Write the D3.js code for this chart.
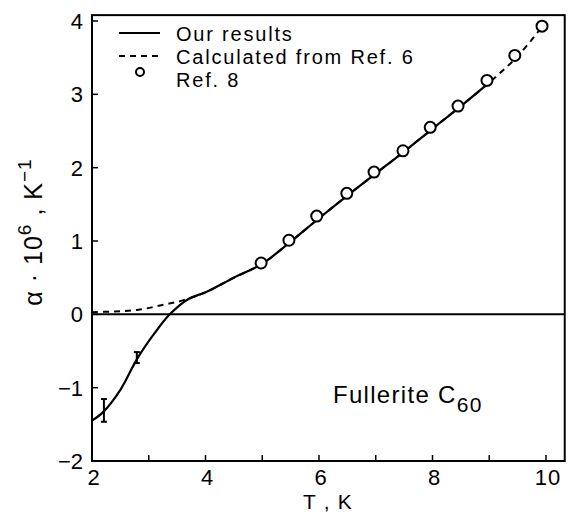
<!DOCTYPE html>
<html>
<head>
<meta charset="utf-8">
<script src="https://cdn.jsdelivr.net/npm/d3@7"></script>
<style>
  body { margin: 0; background: #fff; }
  svg { display: block; font-family: "Liberation Sans", Arial, sans-serif; }
</style>
</head>
<body>
<svg id="chart" width="568" height="514"></svg>
<script>
// DATA
const ourT     = [2.0, 2.2, 2.5, 2.8, 3.1, 3.37, 3.7, 4.0, 4.5, 5.0, 5.5, 6.0, 6.5, 7.0, 7.5, 8.0, 8.5, 9.0];
const ourAlpha = [-1.45, -1.33, -1.03, -0.60, -0.26, 0.0, 0.21, 0.30, 0.50, 0.69, 0.99, 1.31, 1.62, 1.92, 2.22, 2.53, 2.84, 3.16];

const calcT     = [2.0, 2.4, 2.8, 3.2, 3.6, 4.0, 4.5, 5.0, 5.5, 6.0, 6.5, 7.0, 7.5, 8.0, 8.5, 9.0, 9.5, 9.93];
const calcAlpha = [0.03, 0.04, 0.06, 0.12, 0.19, 0.30, 0.50, 0.69, 0.99, 1.31, 1.62, 1.92, 2.22, 2.53, 2.84, 3.16, 3.52, 3.92];

const ref8T     = [4.98, 5.47, 5.96, 6.49, 6.97, 7.48, 7.96, 8.45, 8.96, 9.45, 9.93];
const ref8Alpha = [0.70, 1.01, 1.34, 1.65, 1.94, 2.23, 2.55, 2.84, 3.19, 3.53, 3.93];

// error bars on our data: T, centre, half-height
const errT    = [2.21, 2.79];
const errMid  = [-1.31, -0.59];
const errHalf = [0.155, 0.075];

const xTicks = [2, 4, 6, 8, 10];
const xMinorTicks = [3, 4, 5, 6, 7, 8, 9, 10];
const yTicks = [-2, -1, 0, 1, 2, 3, 4];

const legendItems = ["Our  results", "Calculated from Ref. 6", "Ref. 8"];

// SCALES
const svg = d3.select("#chart");
const x = d3.scaleLinear().domain([2, 10]).range([92, 546]);
const y = d3.scaleLinear().domain([-2, 4]).range([461, 21]);
const xMax = 10.33, yMax = 4.08;

const zip = (a, b) => a.map((v, i) => [v, b[i]]);
const line = d3.line().x(d => x(d[0])).y(d => y(d[1])).curve(d3.curveCatmullRom.alpha(0.5));

// FRAME
svg.append("rect")
  .attr("x", x(2)).attr("y", y(yMax))
  .attr("width", x(xMax) - x(2)).attr("height", y(-2) - y(yMax))
  .attr("fill", "none").attr("stroke", "#000").attr("stroke-width", 2);

// zero line
svg.append("line")
  .attr("x1", x(2)).attr("x2", x(xMax))
  .attr("y1", y(0)).attr("y2", y(0))
  .attr("stroke", "#000").attr("stroke-width", 2);

// TICKS (inward)
svg.append("g").selectAll("line").data(xMinorTicks).join("line")
  .attr("x1", d => x(d)).attr("x2", d => x(d))
  .attr("y1", y(-2)).attr("y2", y(-2) - 6)
  .attr("stroke", "#000").attr("stroke-width", 1.5);

svg.append("g").selectAll("line").data(yTicks).join("line")
  .attr("x1", x(2)).attr("x2", x(2) + 6)
  .attr("y1", d => y(d)).attr("y2", d => y(d))
  .attr("stroke", "#000").attr("stroke-width", 1.5);

// TICK LABELS
svg.append("g").selectAll("text").data(xTicks).join("text")
  .attr("x", d => x(d) + 2).attr("y", 485)
  .attr("text-anchor", "middle")
  .attr("font-size", 22)
  .attr("letter-spacing", 1)
  .text(d => d);

svg.append("g").selectAll("text").data(yTicks).join("text")
  .attr("x", 83).attr("y", d => y(d) + 8)
  .attr("text-anchor", "end")
  .attr("font-size", 22)
  .text(d => d < 0 ? "\u2212" + Math.abs(d) : d);

// AXIS TITLES
svg.append("text")
  .attr("x", 328).attr("y", 509)
  .attr("text-anchor", "middle")
  .attr("font-size", 21)
  .attr("letter-spacing", 1.2)
  .text("T , K");

const yt = svg.append("text")
  .attr("transform", "translate(42,232) rotate(-90)")
  .attr("text-anchor", "middle")
  .attr("font-size", 25)
  .attr("letter-spacing", 1);
yt.append("tspan").text("\u03b1 \u00b7 10");
yt.append("tspan").attr("dy", -11).attr("font-size", 19).text("6");
yt.append("tspan").attr("dy", 11).text("  ,  K");
yt.append("tspan").attr("dy", -11).attr("font-size", 19).text("\u22121");

// CURVES
svg.append("path")
  .attr("d", line(zip(calcT, calcAlpha)))
  .attr("fill", "none").attr("stroke", "#000").attr("stroke-width", 2)
  .attr("stroke-dasharray", "6,5");

svg.append("path")
  .attr("d", line(zip(ourT, ourAlpha)))
  .attr("fill", "none").attr("stroke", "#000").attr("stroke-width", 2.2);

// ERROR BARS
const eb = svg.append("g").attr("stroke", "#000").attr("stroke-width", 2);
errT.forEach((t, i) => {
  const top = y(errMid[i] + errHalf[i]), bot = y(errMid[i] - errHalf[i]);
  eb.append("line").attr("x1", x(t)).attr("x2", x(t)).attr("y1", top).attr("y2", bot);
  eb.append("line").attr("x1", x(t) - 3).attr("x2", x(t) + 3).attr("y1", top).attr("y2", top);
  eb.append("line").attr("x1", x(t) - 3).attr("x2", x(t) + 3).attr("y1", bot).attr("y2", bot);
});

// REF 8 CIRCLES
svg.append("g").selectAll("circle").data(zip(ref8T, ref8Alpha)).join("circle")
  .attr("cx", d => x(d[0])).attr("cy", d => y(d[1]))
  .attr("r", 5.5)
  .attr("fill", "#fff").attr("stroke", "#000").attr("stroke-width", 2);

// LEGEND
const lg = svg.append("g");
const rowY = [33, 56, 79];
lg.append("line").attr("x1", 119).attr("x2", 160).attr("y1", rowY[0]).attr("y2", rowY[0])
  .attr("stroke", "#000").attr("stroke-width", 2.2);
lg.append("line").attr("x1", 119).attr("x2", 160).attr("y1", rowY[1]).attr("y2", rowY[1])
  .attr("stroke", "#000").attr("stroke-width", 2).attr("stroke-dasharray", "6,5");
lg.append("circle").attr("cx", 140).attr("cy", rowY[2] - 7).attr("r", 4)
  .attr("fill", "#fff").attr("stroke", "#000").attr("stroke-width", 2);
lg.selectAll("text").data(legendItems).join("text")
  .attr("x", 176).attr("y", (d, i) => rowY[i] + 8)
  .attr("font-size", 20)
  .attr("letter-spacing", 1.8)
  .text(d => d);

// ANNOTATION
const ann = svg.append("text")
  .attr("x", 333).attr("y", 403)
  .attr("font-size", 24)
  .attr("letter-spacing", 1.3);
ann.append("tspan").text("Fullerite  C");
ann.append("tspan").attr("dy", 9).attr("font-size", 21).text("60");
</script>
</body>
</html>
